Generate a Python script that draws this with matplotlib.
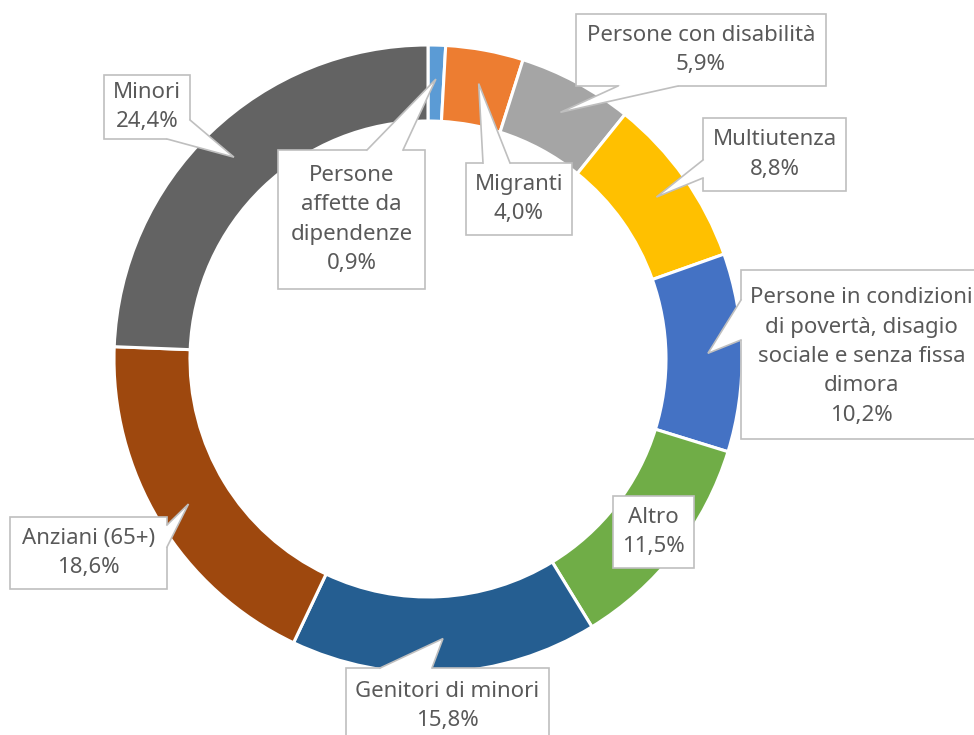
"""Donut chart: distribuzione utenza per area (callout labels, Excel style)."""

import matplotlib.pyplot as plt
import numpy as np
from matplotlib.patches import Polygon, Rectangle

OUT = "out.png"

labels = [
    "Persone\naffette da\ndipendenze",
    "Migranti",
    "Persone con disabilità",
    "Multiutenza",
    "Persone in condizioni\ndi povertà, disagio\nsociale e senza fissa\ndimora",
    "Altro",
    "Genitori di minori",
    "Anziani (65+)",
    "Minori",
]
values = [0.9, 4.0, 5.9, 8.8, 10.2, 11.5, 15.8, 18.6, 24.4]
colors = ["#5B9BD5", "#ED7D31", "#A5A5A5", "#FFC000", "#4472C4",
          "#70AD47", "#255E91", "#9E480E", "#636363"]

# layout in pixel coords (y down): box (x0, y0, x1, y1) and pointer base points
boxes = [
    ((278, 150, 425, 289), [(367, 150), (403, 150)]),
    ((466, 163, 572, 235), [(483, 163), (510, 163)]),
    ((576, 14, 826, 86), [(618, 86), (678, 86)]),
    ((703, 118, 846, 191), [(703, 160), (703, 178)]),
    ((741, 270, 990, 439), [(741, 300), (741, 340)]),
    ((613, 496, 694, 568), None),
    ((346, 668, 549, 760), [(380, 668), (432, 668)]),
    ((10, 517, 167, 589), [(167, 525), (167, 547)]),
    ((104, 75, 190, 139), [(190, 120), (167, 139)]),
]

W, H = 974, 735
CX, CY, R, RING = 428, 359, 314, 76
TEXT = "#595959"
EDGE = "#BFBFBF"


def fmt(v):
    return f"{v:.1f}".replace(".", ",") + "%"


def main():
    plt.rcParams["font.family"] = ["Noto Sans", "DejaVu Sans"]
    fig = plt.figure(figsize=(W / 100, H / 100), dpi=100)
    ax = fig.add_axes([0, 0, 1, 1])

    # y axis is inverted below, so counterclock=True turns clockwise on screen
    ax.pie(values, colors=colors, radius=R, center=(CX, CY), startangle=-90,
           counterclock=True, frame=True,
           wedgeprops=dict(width=RING, edgecolor="white", linewidth=2.2))
    ax.set_xlim(0, W)
    ax.set_ylim(H, 0)
    ax.set_aspect("equal")
    ax.axis("off")

    total = sum(values)
    cum = np.cumsum([0] + values[:-1])
    for i, (lab, v) in enumerate(zip(labels, values)):
        (x0, y0, x1, y1), base = boxes[i]
        ax.add_patch(Rectangle((x0, y0), x1 - x0, y1 - y0, facecolor="white",
                               edgecolor=EDGE, linewidth=1.2, zorder=3))
        if base is not None:
            ang = np.deg2rad((cum[i] + v / 2) / total * 360)
            tip = (CX + 280 * np.sin(ang), CY - 280 * np.cos(ang))
            mid = ((x0 + x1) / 2, (y0 + y1) / 2)
            ax.add_patch(Polygon([base[0], tip, base[1], mid], closed=True,
                                 facecolor="white", edgecolor="none", zorder=4))
            ax.plot([base[0][0], tip[0], base[1][0]],
                    [base[0][1], tip[1], base[1][1]],
                    color=EDGE, linewidth=1.2, zorder=5,
                    solid_joinstyle="miter")
        ty = (y0 + y1) / 2 if i != 4 else (y0 + 439) / 2 + 2
        tx = (x0 + x1) / 2 if i != 4 else (x0 + 974) / 2 + 4
        if i == 6:
            ty = y0 + 38
        ax.text(tx, ty, f"{lab}\n{fmt(v)}", ha="center", va="center",
                fontsize=16, color=TEXT, linespacing=1.52, zorder=6)

    fig.savefig(OUT, dpi=100)


if __name__ == "__main__":
    main()
